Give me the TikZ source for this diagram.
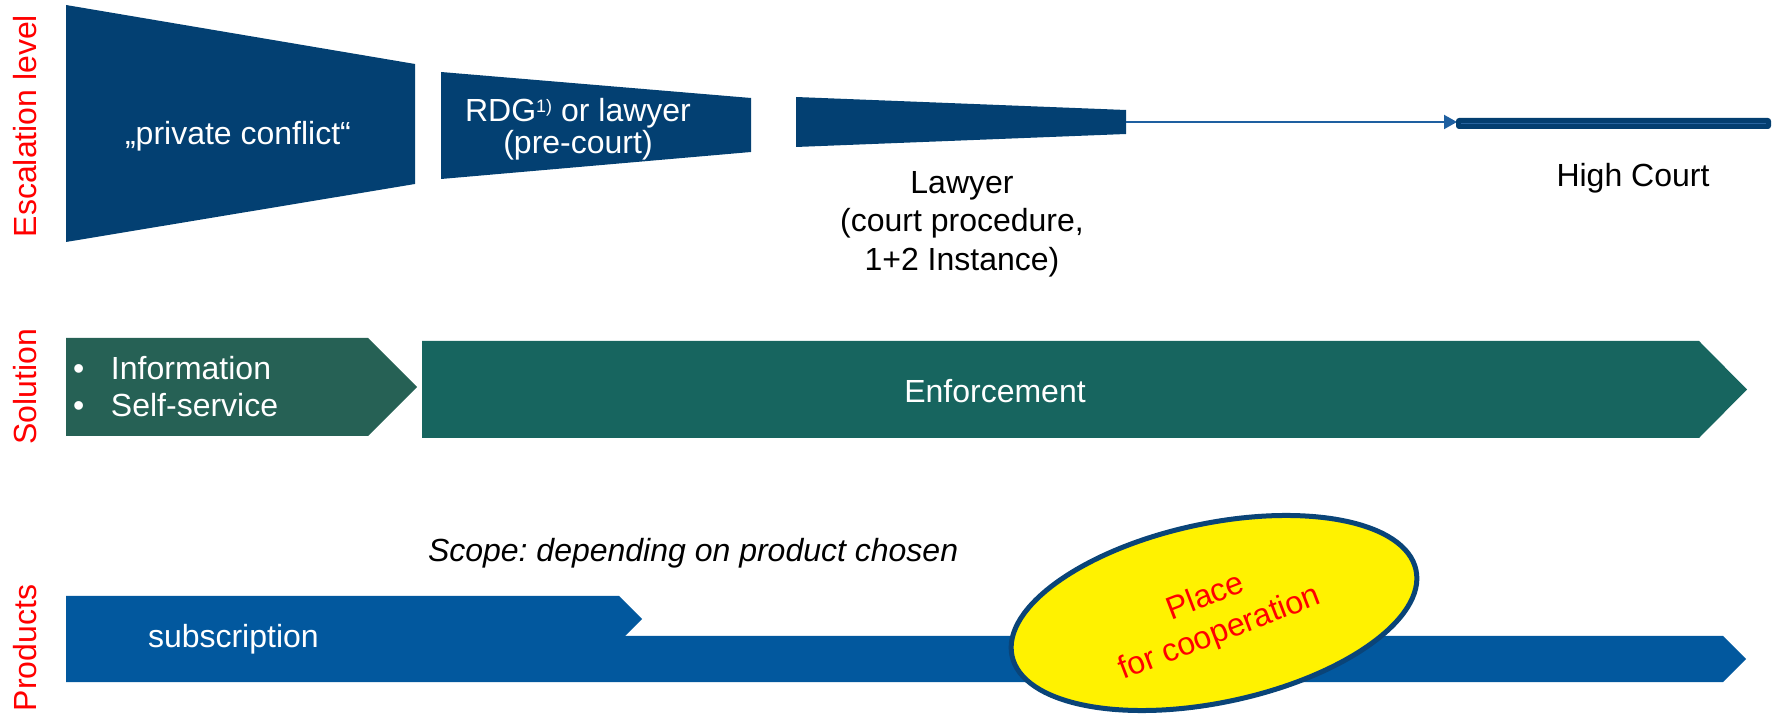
\documentclass[tikz,border=0pt]{standalone}
\usepackage{fontspec}
\setmainfont{Liberation Sans}
\usetikzlibrary{arrows.meta,shapes.geometric}
\definecolor{trapblue}{RGB}{3,64,114}
\definecolor{hcblue}{RGB}{3,62,112}
\definecolor{hcinner}{RGB}{40,100,160}
\definecolor{arrowblue}{RGB}{30,95,160}
\definecolor{solleft}{RGB}{38,97,85}
\definecolor{solright}{RGB}{23,101,95}
\definecolor{prodblue}{RGB}{2,88,158}
\definecolor{ellborder}{RGB}{10,68,120}
\definecolor{lblred}{RGB}{255,0,0}
\frenchspacing
\begin{document}
\begin{tikzpicture}[x=0.5pt,y=-0.5pt,
  txt/.style={font=\fontsize{16}{19.25}\selectfont, inner sep=0pt, outer sep=0pt},
  wtxt/.style={txt, text=white},
  btxt/.style={txt, text=black},
  sidelabel/.style={txt, text=lblred, rotate=90},
  conn/.style={draw=arrowblue, line width=1pt, -{Triangle[length=6.5pt,width=7pt]}}]
\useasboundingbox (0,0) rectangle (1779,716);

% side labels
\node[sidelabel] (esc) at (25,126) {Escalation level};
\node[sidelabel] (sol) at (25,387) {Solution};
\node[sidelabel] (prod) at (25,648) {Products};

% escalation row
\fill[trapblue] (66,5) -- (415,64) -- (415,184) -- (66,242) -- cycle;
\fill[trapblue] (441,72) -- (751,98) -- (751,152) -- (441,179) -- cycle;
\fill[trapblue] (796,97) -- (1126,110) -- (1126,134) -- (796,147) -- cycle;
\coordinate (lawend) at (1126,122);
\coordinate (hcstart) at (1457,122);
\draw[conn] (lawend) -- (hcstart);
\fill[hcblue, rounded corners=1.5pt] (1456,118) rectangle (1771,129);
\draw[hcinner, line width=0.5pt] (1461,123.5) -- (1766,123.5);

\node[wtxt, anchor=base] (pc) at (238,145) {„private conflict“};
\node[wtxt, align=center, font=\fontsize{16}{16}\selectfont] (rdg) at (578,129)
  {RDG\raisebox{4.5pt}{\fontsize{9}{9}\selectfont 1)} or lawyer\\(pre-court)};
\node[btxt, align=center] (law) at (962,224) {Lawyer\\(court procedure,\\1+2 Instance)};
\node[btxt] (hc) at (1633,178) {High Court};

% solution row
\fill[solleft] (66,338) -- (368,338) -- (417,387) -- (368,436) -- (66,436) -- cycle;
\fill[solright] (422,341) -- (1699,341) -- (1747,389.5) -- (1699,438) -- (422,438) -- cycle;
\node[wtxt, anchor=west, align=left, font=\fontsize{16}{18.5}\selectfont] (info) at (73,387)
  {\makebox[19pt][l]{•}Information\\\makebox[19pt][l]{•}Self-service};
\node[wtxt] (enf) at (995,391) {Enforcement};

% products row
\node[btxt, anchor=west, font=\fontsize{16}{19.25}\selectfont\itshape] (scope) at (428,553) {Scope: depending on product chosen};
\fill[prodblue] (66,596) -- (619,596) -- (642,619) -- (619,642) -- (66,642) -- cycle;
\fill[prodblue] (66,636) -- (1723,636) -- (1746,659) -- (1723,682) -- (66,682) -- cycle;
\node[wtxt, anchor=west] (sub) at (148,639) {subscription};

\node[draw=ellborder, fill=yellow, line width=2.5pt, ellipse, minimum width=206.5pt,
  minimum height=89.5pt, inner sep=0pt, rotate=12] (coop) at (1214,613) {};
\node[txt, text=lblred, rotate=21, align=center] (cooptext) at (1213,616) {Place\\for cooperation};
\end{tikzpicture}
\end{document}
